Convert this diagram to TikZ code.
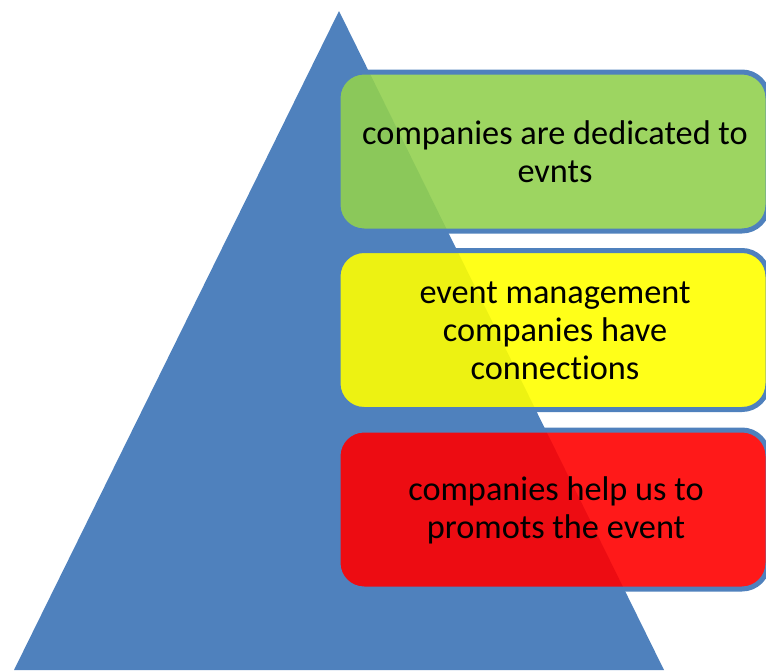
\documentclass[tikz,border=0pt]{standalone}
\usepackage{fontspec}
\setmainfont{Carlito}[Ligatures=NoCommon]
\definecolor{triblue}{HTML}{4F81BD}
\definecolor{boxgreen}{HTML}{92D050}
\definecolor{boxyellow}{HTML}{FFFF00}
\definecolor{boxred}{HTML}{FF0000}
\tikzset{
  levelbox/.style={draw=triblue, line width=5pt, rounded corners=26pt,
    fill opacity=0.9, minimum width=430pt, minimum height=159pt, inner sep=0pt},
  leveltext/.style={align=center, inner sep=0pt,
    font=\fontsize{34.3pt}{37.8pt}\selectfont},
}
\begin{document}
\begin{tikzpicture}[x=1pt,y=-1pt]
\useasboundingbox (0,0) rectangle (766,670);
\fill[triblue] (339,11) -- (664,670) -- (14,670) -- cycle;
\node[levelbox, fill=boxgreen] (g) at (553,151.5) {};
\node[levelbox, fill=boxyellow] (y) at (553,330) {};
\node[levelbox, fill=boxred] (r) at (553,509.5) {};
\node[leveltext] (gt) at (555,152) {companies are dedicated to\\evnts};
\node[leveltext] (yt) at (555,331) {event management\\companies have\\connections};
\node[leveltext] (rt) at (556,510) {companies help us to\\promots the event};
\end{tikzpicture}
\end{document}
